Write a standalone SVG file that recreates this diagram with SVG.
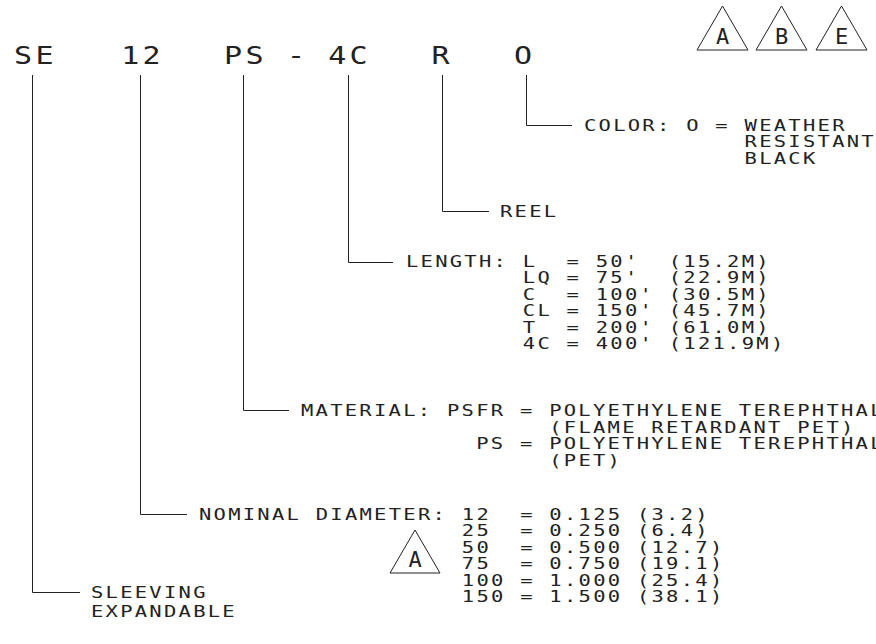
<svg xmlns="http://www.w3.org/2000/svg" width="876" height="644" viewBox="0 0 876 644">
<style>
text { font-family: "DejaVu Sans Mono", "Liberation Mono", monospace; fill: #222222; white-space: pre; }
.s { font-size: 16.4px; letter-spacing: 1.81px; }
.big { font-size: 24px; letter-spacing: 2.6px; text-anchor: middle; }
.tl { font-size: 22px; text-anchor: middle; }
.ln { fill: none; stroke: #222222; stroke-width: 1; }
</style>
<rect width="876" height="644" fill="#ffffff"/>
<g id="connectors" class="ln">
<path d="M32.5 75 V592.5 H80"/>
<path d="M140.5 75 V514.5 H187"/>
<path d="M243.5 75 V410.5 H289"/>
<path d="M348.5 75 V262.5 H393"/>
<path d="M442.5 75 V211.5 H489"/>
<path d="M526.5 75 V125.5 H572"/>
</g>
<g id="code" transform="scale(1.25 1)">
<text class="big" x="28.34" y="64.5">SE</text>
<text class="big" x="114.1" y="64.5">12</text>
<text class="big" x="196.34" y="64.5">PS</text>
<text class="big" x="238.1" y="64.5">-</text>
<text class="big" x="279.7" y="64.5">4C</text>
<text class="big" x="353.7" y="64.5">R</text>
<text class="big" x="419.7" y="64.5">O</text>
</g>
<g id="rev-abe">
<polygon class="ln" points="697,50 722.5,6 748,50"/>
<text class="tl" x="722.5" y="44">A</text>
<polygon class="ln" points="756,50 781.5,6 807,50"/>
<text class="tl" x="781.5" y="44">B</text>
<polygon class="ln" points="816,50 841.5,6 867,50"/>
<text class="tl" x="841.5" y="44">E</text>
</g>
<g id="color" transform="scale(1.25 1)">
<text class="s" x="467.2" y="131">COLOR: O =</text>
<text class="s" x="595.68" y="131">WEATHER<tspan x="595.68" y="147.5">RESISTANT</tspan><tspan x="595.68" y="164">BLACK</tspan></text>
</g>
<g id="reel" transform="scale(1.25 1)">
<text class="s" x="400" y="217.5">REEL</text>
</g>
<g id="length" transform="scale(1.25 1)">
<text class="s" x="324.8" y="267">LENGTH:</text>
<text class="s" x="418.24" y="267">L  = 50'  (15.2M)<tspan x="418.24" y="283.4">LQ = 75'  (22.9M)</tspan><tspan x="418.24" y="299.8">C  = 100' (30.5M)</tspan><tspan x="418.24" y="316.2">CL = 150' (45.7M)</tspan><tspan x="418.24" y="332.6">T  = 200' (61.0M)</tspan><tspan x="418.24" y="349">4C = 400' (121.9M)</tspan></text>
</g>
<g id="material" transform="scale(1.25 1)">
<text class="s" x="240.8" y="416.5">MATERIAL:</text>
<text class="s" x="357.6" y="416.5">PSFR = POLYETHYLENE TEREPHTHAL<tspan x="439.36" y="433">(FLAME RETARDANT PET)</tspan><tspan x="380.96" y="449.5">PS = POLYETHYLENE TEREPHTHAL</tspan><tspan x="439.36" y="466">(PET)</tspan></text>
</g>
<g id="diameter" transform="scale(1.25 1)">
<text class="s" x="159.2" y="520">NOMINAL DIAMETER:</text>
<text class="s" x="369.44" y="520">12  = 0.125 (3.2)<tspan x="369.44" y="536.4">25  = 0.250 (6.4)</tspan><tspan x="369.44" y="552.8">50  = 0.500 (12.7)</tspan><tspan x="369.44" y="569.2">75  = 0.750 (19.1)</tspan><tspan x="369.44" y="585.6">100 = 1.000 (25.4)</tspan><tspan x="369.44" y="602">150 = 1.500 (38.1)</tspan></text>
</g>
<g id="rev-a">
<polygon class="ln" points="390,573 415,530 440,573"/>
<text class="tl" x="415" y="567">A</text>
</g>
<g id="sleeving" transform="scale(1.25 1)">
<text class="s" x="72.8" y="598">SLEEVING<tspan x="72.8" y="617">EXPANDABLE</tspan></text>
</g>
</svg>
